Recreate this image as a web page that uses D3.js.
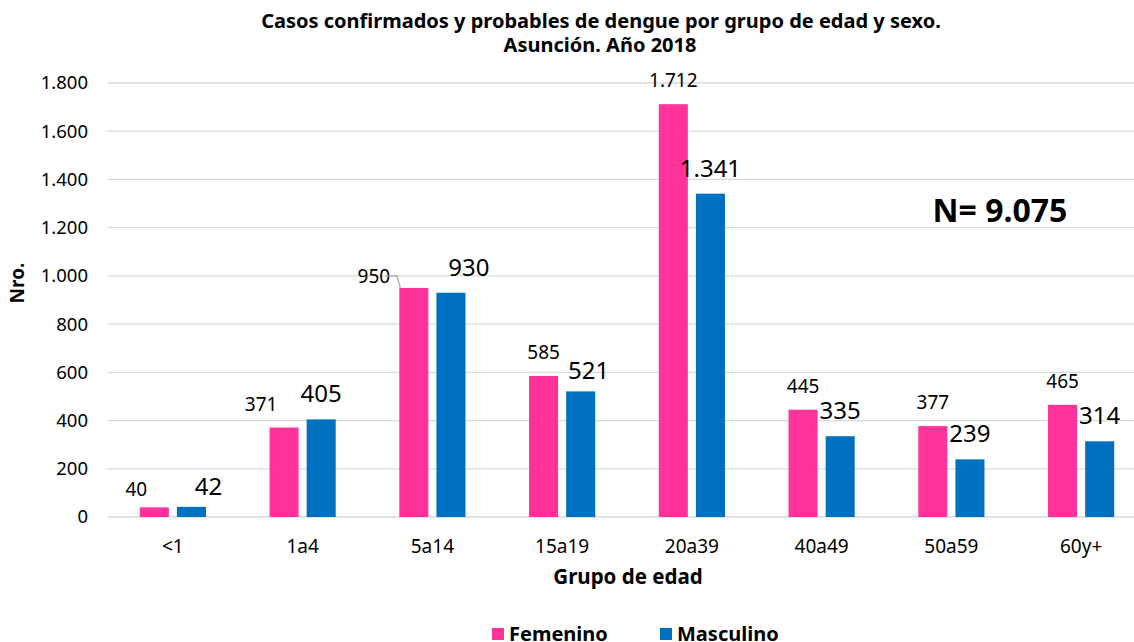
<!DOCTYPE html>
<html>
<head>
<meta charset="utf-8">
<script src="https://cdn.jsdelivr.net/npm/d3@7"></script>
<style>
  body { margin: 0; background: #fff; }
  text { font-family: "Noto Sans", "Open Sans", sans-serif; fill: #000; }
</style>
</head>
<body>
<div id="chart"></div>
<script>
// data
const grupos = ["<1", "1a4", "5a14", "15a19", "20a39", "40a49", "50a59", "60y+"];
const femenino = [40, 371, 950, 585, 1712, 445, 377, 465];
const masculino = [42, 405, 930, 521, 1341, 335, 239, 314];
const yTicks = [0, 200, 400, 600, 800, 1000, 1200, 1400, 1600, 1800];
const series = ["Femenino", "Masculino"];
const totalLabel = "N= 9.075";

// label nudges (px) where the original chart moved labels off the default spot
const nudge = {
    "Femenino-<1": [-18, 6], "Masculino-<1": [17, 5],
    "Femenino-1a4": [-23, 0],
    "Femenino-5a14": [-40, 12], "Masculino-5a14": [18, 0],
    "Masculino-15a19": [8, 5]
};

const width = 1134, height = 642;
const margin = {top: 83, left: 108, bottom: 125};
const colors = {Femenino: "#FF3399", Masculino: "#0070C0"};

const svg = d3.select("#chart").append("svg")
    .attr("width", width)
    .attr("height", height);

const x0 = d3.scaleBand()
    .domain(grupos)
    .range([margin.left, 1146])
    .paddingInner(0.49)
    .paddingOuter(0.245);

const x1 = d3.scaleBand()
    .domain(series)
    .range([0, x0.bandwidth()])
    .paddingInner(0.218);

const y = d3.scaleLinear()
    .domain([0, 1800])
    .range([517, margin.top]);

// gridlines
svg.append("g")
    .selectAll("line")
    .data(yTicks)
    .join("line")
    .attr("x1", margin.left)
    .attr("x2", 1146)
    .attr("y1", d => y(d))
    .attr("y2", d => y(d))
    .attr("stroke", "#d9d9d9")
    .attr("stroke-width", 1.3);

// y labels
const fmt = d3.formatLocale({decimal: ",", thousands: ".", grouping: [3], currency: ["", ""]}).format(",d");
svg.append("g")
    .selectAll("text")
    .data(yTicks)
    .join("text")
    .attr("x", 88)
    .attr("y", d => y(d))
    .attr("dy", "0.35em")
    .attr("text-anchor", "end")
    .style("font-size", "18.5px")
    .text(d => fmt(d));

// bars
const rows = grupos.map((g, i) => ({grupo: g, Femenino: femenino[i], Masculino: masculino[i]}));
const groups = svg.append("g")
    .selectAll("g")
    .data(rows)
    .join("g")
    .attr("transform", d => `translate(${x0(d.grupo)},0)`);

groups.selectAll("rect")
    .data(d => series.map(s => ({key: s, grupo: d.grupo, value: d[s]})))
    .join("rect")
    .attr("x", d => x1(d.key))
    .attr("y", d => y(d.value))
    .attr("width", x1.bandwidth())
    .attr("height", d => y(0) - y(d.value))
    .attr("fill", d => colors[d.key]);

// value labels
groups.selectAll("text")
    .data(d => series.map(s => ({key: s, grupo: d.grupo, value: d[s]})))
    .join("text")
    .attr("x", d => x1(d.key) + x1.bandwidth() / 2 + (nudge[d.key + "-" + d.grupo] || [0, 0])[0])
    .attr("y", d => y(d.value) - 17 + (nudge[d.key + "-" + d.grupo] || [0, 0])[1])
    .attr("text-anchor", "middle")
    .style("font-size", d => d.key === "Femenino" ? "19px" : "24px")
    .text(d => fmt(d.value));

// leader line for the 950 label
const fx = x0("5a14") + x1("Femenino");
svg.append("path")
    .attr("d", `M${fx - 14},${y(950) - 12}H${fx - 2.5}L${fx + 1},${y(950)}`)
    .attr("fill", "none")
    .attr("stroke", "#a6a6a6")
    .attr("stroke-width", 1.2);

// x labels
svg.append("g")
    .selectAll("text")
    .data(grupos)
    .join("text")
    .attr("x", d => x0(d) + x0.bandwidth() / 2)
    .attr("y", 553)
    .attr("text-anchor", "middle")
    .style("font-size", "19px")
    .text(d => d);

// titles
svg.append("text")
    .attr("x", 601).attr("y", 28)
    .attr("text-anchor", "middle")
    .style("font-size", "20px").style("font-weight", "bold")
    .text("Casos confirmados y probables de dengue por grupo de edad y sexo.");
svg.append("text")
    .attr("x", 600).attr("y", 52)
    .attr("text-anchor", "middle")
    .style("font-size", "20px").style("font-weight", "bold")
    .text("Asunción. Año 2018");

svg.append("text")
    .attr("x", 628).attr("y", 584)
    .attr("text-anchor", "middle")
    .style("font-size", "20.5px").style("font-weight", "bold")
    .text("Grupo de edad");

svg.append("text")
    .attr("transform", "translate(24,283) rotate(-90)")
    .attr("text-anchor", "middle")
    .style("font-size", "19px").style("font-weight", "bold")
    .text("Nro.");

svg.append("text")
    .attr("x", 1000).attr("y", 222)
    .attr("text-anchor", "middle")
    .style("font-size", "32px").style("font-weight", "bold")
    .text(totalLabel);

// legend
const legend = svg.append("g")
    .selectAll("g")
    .data(series)
    .join("g")
    .attr("transform", (d, i) => `translate(${i === 0 ? 492 : 660},628)`);
legend.append("rect")
    .attr("width", 12).attr("height", 12)
    .attr("fill", d => colors[d]);
legend.append("text")
    .attr("x", 17).attr("y", 13)
    .style("font-size", "20px").style("font-weight", "bold")
    .text(d => d);
</script>
</body>
</html>
